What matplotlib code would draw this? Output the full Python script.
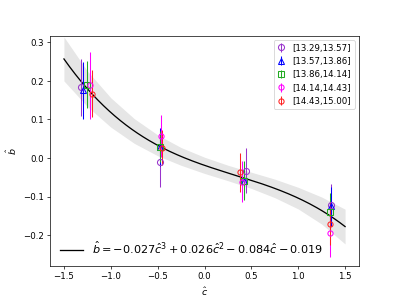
import matplotlib
matplotlib.use("Agg")
import matplotlib.pyplot as plt
import numpy as np

# fitted cubic  b = p3 c^3 + p2 c^2 + p1 c + p0
coef = [-0.027, 0.026, -0.084, -0.019]

# confidence band half width
band_c = [-1.5, -1.25, -1.0, -0.75, -0.5, -0.25, 0.0, 0.25, 0.5, 0.75, 1.0, 1.25, 1.5]
band_hw = [0.057, 0.046, 0.038, 0.032, 0.027, 0.023, 0.021, 0.020, 0.021, 0.024, 0.028, 0.035, 0.045]

labels = ["[13.29,13.57]", "[13.57,13.86]", "[13.86,14.14]", "[14.14,14.43]", "[14.43,15.00]"]
colors = ["#9933cc", "#0000ff", "#22aa22", "#ff00ff", "#ff2222"]
markers = ["o", "^", "s", "o", "o"]

c_vals = [
    [-1.318, -0.475, 0.443, 1.345],
    [-1.295, -0.470, 0.425, 1.350],
    [-1.250, -0.470, 0.420, 1.340],
    [-1.225, -0.460, 0.397, 1.340],
    [-1.196, -0.450, 0.379, 1.335],
]
b_vals = [
    [0.183, -0.010, -0.033, -0.122],
    [0.175, 0.029, -0.059, -0.125],
    [0.190, 0.029, -0.059, -0.139],
    [0.188, 0.057, -0.061, -0.194],
    [0.166, 0.027, -0.037, -0.170],
]
b_err = [
    [0.073, 0.065, 0.058, 0.055],
    [0.074, 0.050, 0.045, 0.050],
    [0.060, 0.040, 0.050, 0.048],
    [0.087, 0.055, 0.052, 0.062],
    [0.061, 0.045, 0.050, 0.055],
]

fig = plt.figure(figsize=(6.4, 4.8))
ax = fig.add_subplot(111)

cc = np.linspace(-1.5, 1.5, 200)
ax.plot(cc, np.polyval(coef, cc), color="black", lw=1.5,
        label=r"$\hat{b}=-0.027\hat{c}^3+0.026\hat{c}^2-0.084\hat{c}-0.019$")
bc = np.array(band_c)
bmid = np.polyval(coef, bc)
ax.fill_between(bc, bmid - np.array(band_hw), bmid + np.array(band_hw),
                color="#e6e6e6", lw=0, zorder=0)

handles = []
for i in range(5):
    h = ax.errorbar(c_vals[i], b_vals[i], yerr=b_err[i], fmt=markers[i],
                    color=colors[i], mfc="none", ms=7 if i < 3 else 6,
                    mew=1.2, elinewidth=1.2, label=labels[i])
    handles.append(h)

leg1 = ax.legend(handles=handles, loc="upper right", fontsize=10,
                 handlelength=1.0)
ax.add_artist(leg1)
ax.legend(handles=[ax.lines[0]], loc="lower left", frameon=False, fontsize=13)

ax.set_xlim(-1.65, 1.65)
ax.set_ylim(-0.28, 0.317)
ax.set_xlabel(r"$\hat{c}$", fontsize=11)
ax.set_ylabel(r"$\hat{b}$", fontsize=11)

plt.savefig("out.png", dpi=62.35)
plt.close()
